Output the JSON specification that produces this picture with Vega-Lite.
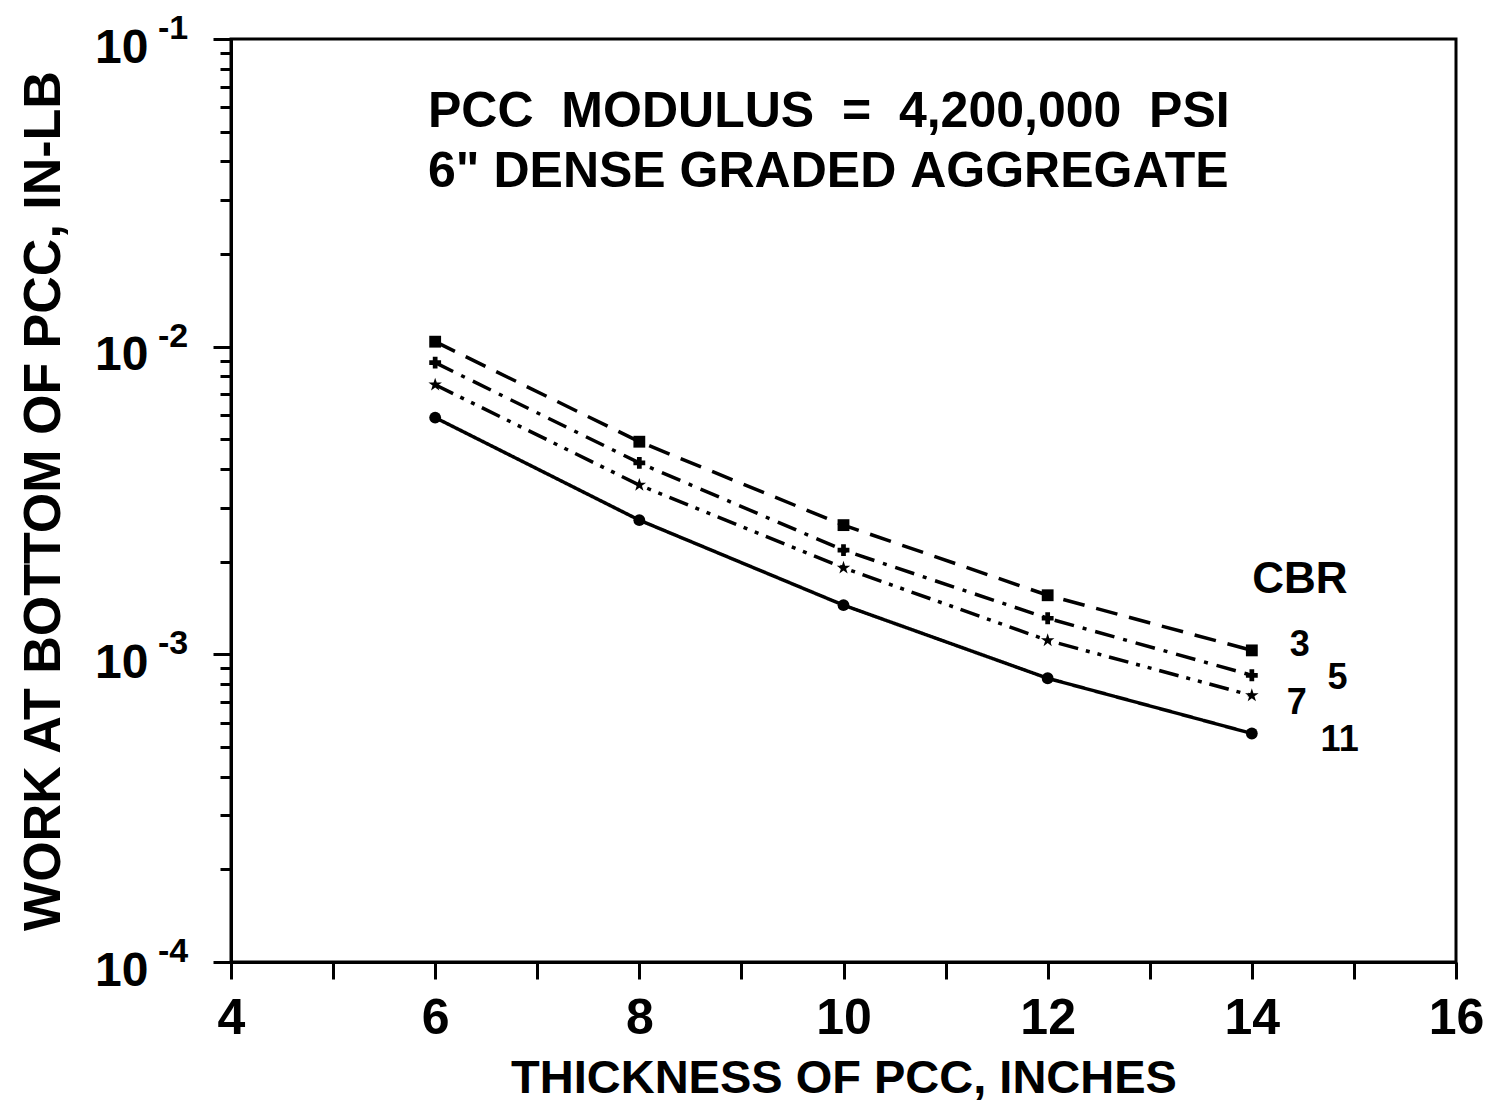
{
  "$schema": "https://vega.github.io/schema/vega-lite/v6.json",
  "width": 1225,
  "height": 923,
  "autosize": {"type": "none"},
  "padding": {"left": 231, "top": 39, "right": 40, "bottom": 144},
  "background": "white",
  "config": {
    "view": {"stroke": "black", "strokeWidth": 3},
    "font": "Liberation Sans"
  },
  "datasets": {
    "curves": [
      {"thickness": 6, "work": 0.01038, "cbr": "3"},
      {"thickness": 8, "work": 0.00491, "cbr": "3"},
      {"thickness": 10, "work": 0.00263, "cbr": "3"},
      {"thickness": 12, "work": 0.001556, "cbr": "3"},
      {"thickness": 14, "work": 0.00103, "cbr": "3"},
      {"thickness": 6, "work": 0.00887, "cbr": "5"},
      {"thickness": 8, "work": 0.00419, "cbr": "5"},
      {"thickness": 10, "work": 0.00218, "cbr": "5"},
      {"thickness": 12, "work": 0.00131, "cbr": "5"},
      {"thickness": 14, "work": 0.000855, "cbr": "5"},
      {"thickness": 6, "work": 0.00752, "cbr": "7"},
      {"thickness": 8, "work": 0.00355, "cbr": "7"},
      {"thickness": 10, "work": 0.00191, "cbr": "7"},
      {"thickness": 12, "work": 0.00111, "cbr": "7"},
      {"thickness": 14, "work": 0.000735, "cbr": "7"},
      {"thickness": 6, "work": 0.00588, "cbr": "11"},
      {"thickness": 8, "work": 0.00273, "cbr": "11"},
      {"thickness": 10, "work": 0.001445, "cbr": "11"},
      {"thickness": 12, "work": 0.000836, "cbr": "11"},
      {"thickness": 14, "work": 0.000553, "cbr": "11"}
    ],
    "labels": [
      {"thickness": 14.47, "work": 0.001746, "text": "CBR", "size": "big"},
      {"thickness": 14.47, "work": 0.001074, "text": "3", "size": "small"},
      {"thickness": 14.84, "work": 0.000838, "text": "5", "size": "small"},
      {"thickness": 14.44, "work": 0.000695, "text": "7", "size": "small"},
      {"thickness": 14.86, "work": 0.000527, "text": "11", "size": "small"}
    ],
    "notes": [
      {"thickness": 5.93, "work": 0.0517, "text": "PCC\u00a0\u00a0MODULUS\u00a0\u00a0=\u00a0\u00a04,200,000\u00a0\u00a0PSI"},
      {"thickness": 5.93, "work": 0.0330, "text": "6\"\u00a0DENSE\u00a0GRADED\u00a0AGGREGATE"}
    ],
    "exponents": [
      {"thickness": 4, "work": 0.1, "exp": "-1"},
      {"thickness": 4, "work": 0.01, "exp": "-2"},
      {"thickness": 4, "work": 0.001, "exp": "-3"},
      {"thickness": 4, "work": 0.0001, "exp": "-4"}
    ]
  },
  "layer": [
    {
      "data": {"name": "curves"},
      "mark": {"type": "line", "color": "black", "strokeWidth": 3.5},
      "encoding": {
        "x": {
          "field": "thickness", "type": "quantitative",
          "scale": {"domain": [4, 16], "nice": false, "zero": false},
          "axis": {
            "values": [4, 5, 6, 7, 8, 9, 10, 11, 12, 13, 14, 15, 16],
            "format": "d",
            "labelExpr": "datum.value % 2 == 0 ? datum.label : ''",
            "grid": false,
            "domainColor": "black", "domainWidth": 3,
            "tickColor": "black", "tickWidth": 3, "tickSize": 17,
            "labelFont": "Liberation Sans", "labelFontWeight": "bold", "labelFontSize": 50,
            "labelColor": "black", "labelPadding": 14, "labelFlush": false,
            "title": "THICKNESS OF PCC, INCHES",
            "titleFont": "Liberation Sans", "titleFontWeight": "bold", "titleFontSize": 47,
            "titleColor": "black", "titlePadding": 12
          }
        },
        "y": {
          "field": "work", "type": "quantitative",
          "scale": {"type": "log", "domain": [0.0001, 0.1], "nice": false},
          "axis": {
            "values": [0.0001, 0.0002, 0.0003, 0.0004, 0.0005, 0.0006, 0.0007, 0.0008, 0.0009,
                       0.001, 0.002, 0.003, 0.004, 0.005, 0.006, 0.007, 0.008, 0.009,
                       0.01, 0.02, 0.03, 0.04, 0.05, 0.06, 0.07, 0.08, 0.09, 0.1],
            "labelExpr": "abs(log(datum.value)/LN10 - round(log(datum.value)/LN10)) < 0.01 ? '10' : ''",
            "grid": false,
            "domainColor": "black", "domainWidth": 3,
            "tickColor": "black", "tickWidth": 3,
            "tickSize": {"condition": {"test": "abs(log(datum.value)/LN10 - round(log(datum.value)/LN10)) < 0.01", "value": 18}, "value": 11},
            "labelFont": "Liberation Sans", "labelFontWeight": "bold", "labelFontSize": 48,
            "labelColor": "black", "labelPadding": 65, "labelFlush": false,
            "labelOffset": 9,
            "labelOverlap": false,
            "title": "WORK AT BOTTOM OF PCC, IN-LB",
            "titleFont": "Liberation Sans", "titleFontWeight": "bold", "titleFontSize": 52,
            "titleColor": "black", "titlePadding": 24
          }
        },
        "detail": {"field": "cbr"},
        "strokeDash": {
          "field": "cbr", "type": "nominal", "legend": null,
          "scale": {"domain": ["3", "5", "7", "11"], "range": [[22, 12], [20, 9, 4, 9], [20, 8, 4, 8, 4, 8], [1, 0]]}
        }
      }
    },
    {
      "data": {"name": "curves"},
      "mark": {"type": "point", "filled": true, "color": "black", "opacity": 1, "size": 140},
      "encoding": {
        "x": {"field": "thickness", "type": "quantitative"},
        "y": {"field": "work", "type": "quantitative"},
        "shape": {
          "field": "cbr", "type": "nominal", "legend": null,
          "scale": {"domain": ["3", "5", "7", "11"], "range": ["square", "cross", "M0,-1.2L0.27,-0.37L1.14,-0.37L0.44,0.14L0.7,0.97L0,0.46L-0.7,0.97L-0.44,0.14L-1.14,-0.37L-0.27,-0.37Z", "circle"]}
        }
      }
    },
    {
      "data": {"name": "exponents"},
      "mark": {"type": "text", "align": "left", "baseline": "middle", "dx": -73, "dy": -10, "clip": false, "font": "Liberation Sans", "fontWeight": "bold", "fontSize": 34, "color": "black"},
      "encoding": {
        "x": {"field": "thickness", "type": "quantitative"},
        "y": {"field": "work", "type": "quantitative"},
        "text": {"field": "exp"}
      }
    },
    {
      "data": {"name": "labels"},
      "mark": {"type": "text", "align": "center", "baseline": "middle", "font": "Liberation Sans", "fontWeight": "bold", "color": "black"},
      "encoding": {
        "x": {"field": "thickness", "type": "quantitative"},
        "y": {"field": "work", "type": "quantitative"},
        "text": {"field": "text"},
        "size": {"field": "size", "type": "nominal", "legend": null, "scale": {"domain": ["big", "small"], "range": [44, 36]}}
      }
    },
    {
      "data": {"name": "notes"},
      "mark": {"type": "text", "align": "left", "baseline": "alphabetic", "font": "Liberation Sans", "fontWeight": "bold", "fontSize": 50, "color": "black"},
      "encoding": {
        "x": {"field": "thickness", "type": "quantitative"},
        "y": {"field": "work", "type": "quantitative"},
        "text": {"field": "text"}
      }
    }
  ]
}
